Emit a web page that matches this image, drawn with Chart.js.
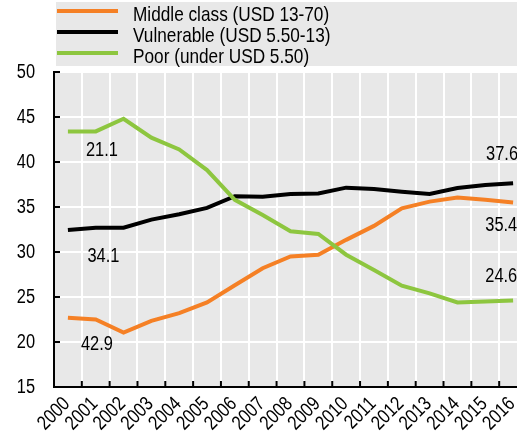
<!DOCTYPE html>
<html>
<head>
<meta charset="utf-8">
<script src="https://cdn.jsdelivr.net/npm/chart.js@4/dist/chart.umd.min.js"></script>
<style>
  html, body { margin: 0; padding: 0; background: #fff; overflow: hidden; }
  #wrap { width: 532px; height: 434px; }
</style>
</head>
<body>
<div id="wrap"><canvas id="chart" width="532" height="434"></canvas></div>
<script>
const years = ['2000', '2001', '2002', '2003', '2004', '2005', '2006', '2007', '2008',
  '2009', '2010', '2011', '2012', '2013', '2014', '2015', '2016'];

const middleClass = [22.7, 22.5, 21.05, 22.35, 23.2, 24.4, 26.3, 28.2, 29.5,
  29.7, 31.35, 32.9, 34.85, 35.6, 36.05, 35.8, 35.5];
const vulnerable = [32.45, 32.7, 32.7, 33.6, 34.2, 34.9, 36.2, 36.15, 36.45,
  36.5, 37.15, 37.0, 36.7, 36.45, 37.1, 37.45, 37.65];
const poor = [43.4, 43.4, 44.8, 42.7, 41.4, 39.1, 35.8, 34.1, 32.3,
  32.0, 29.7, 28.0, 26.25, 25.4, 24.4, 24.5, 24.6];

const seriesNames = ['Middle class (USD 13-70)', 'Vulnerable (USD 5.50-13)', 'Poor (under USD 5.50)'];
const yTicks = [15, 20, 25, 30, 35, 40, 45, 50];

// value labels as printed on the original
const valueLabels = ['21.1', '34.1', '42.9', '37.6', '35.4', '24.6'];
// anchors in data space: [category index, y value]
const labelAnchors = [[0.65, 41.25], [0.7, 29.5], [0.47, 19.7], [15.03, 40.86], [15.0, 33.0], [15.0, 27.33]];

const ORANGE = '#f58025';
const GREEN = '#8dc63f';
const BLACK = '#000000';
const PANEL = '#e8e8e8';

// no Arial Narrow here, so squeeze Liberation Sans by hand
const FAMILY = "'Liberation Sans', Arial, sans-serif";
const SQUEEZE = 0.82;

function narrowText(ctx, txt, x, y, size, align, angle) {
  ctx.save();
  ctx.translate(x, y);
  if (angle) ctx.rotate(angle);
  ctx.scale(SQUEEZE, 1);
  ctx.font = size + 'px ' + FAMILY;
  ctx.textAlign = align;
  ctx.textBaseline = 'middle';
  ctx.fillStyle = '#000';
  ctx.fillText(txt, 0, 0);
  ctx.restore();
}

const backdrop = {
  id: 'backdrop',
  beforeDraw(chart) {
    const { ctx, chartArea: a, width } = chart;
    ctx.save();
    ctx.fillStyle = PANEL;
    ctx.fillRect(a.left, a.top, a.right - a.left, a.bottom - a.top);
    // legend panel
    ctx.fillRect(a.left + 2, 2, width - a.left - 2, 64);
    ctx.restore();
  }
};

const legendBox = {
  id: 'legendBox',
  afterDraw(chart) {
    const { ctx, chartArea: a } = chart;
    chart.data.datasets.forEach((ds, i) => {
      const y = 11 + i * 21;
      ctx.save();
      ctx.strokeStyle = ds.borderColor;
      ctx.lineWidth = 4;
      ctx.beginPath();
      ctx.moveTo(a.left + 3, y);
      ctx.lineTo(a.left + 64, y);
      ctx.stroke();
      ctx.restore();
      narrowText(ctx, ds.label, a.left + 79, y + 4, 21, 'left');
    });
  }
};

const axisText = {
  id: 'axisText',
  afterDraw(chart) {
    const { ctx, chartArea: a, scales } = chart;
    ctx.save();
    ctx.strokeStyle = '#000';
    ctx.lineWidth = 2;
    ctx.beginPath();
    scales.y.ticks.forEach(t => {
      const py = scales.y.getPixelForValue(t.value);
      ctx.moveTo(a.left, py);
      ctx.lineTo(a.left + 6, py);
    });
    for (let i = 0; i < years.length; i++) {
      const px = scales.x.getPixelForValue(i + 0.5);
      ctx.moveTo(px, a.bottom);
      ctx.lineTo(px, a.bottom - 6);
    }
    ctx.stroke();
    ctx.restore();

    scales.y.ticks.forEach(t => {
      narrowText(ctx, String(t.value), a.left - 19, scales.y.getPixelForValue(t.value), 20, 'right');
    });
    years.forEach((yr, i) => {
      narrowText(ctx, yr, scales.x.getPixelForValue(i) - 1, a.bottom + 14, 20, 'right', -Math.PI / 4);
    });
    valueLabels.forEach((txt, i) => {
      const [xi, yv] = labelAnchors[i];
      narrowText(ctx, txt, scales.x.getPixelForValue(xi), scales.y.getPixelForValue(yv), 20, 'left');
    });
  }
};

new Chart(document.getElementById('chart'), {
  type: 'line',
  data: {
    labels: years,
    datasets: [
      { label: seriesNames[0], data: middleClass, borderColor: ORANGE, order: 2 },
      { label: seriesNames[1], data: vulnerable, borderColor: BLACK, order: 1 },
      { label: seriesNames[2], data: poor, borderColor: GREEN, order: 0 }
    ]
  },
  options: {
    responsive: false,
    animation: false,
    layout: { padding: { top: 72, left: 0, right: 5, bottom: 0 } },
    elements: {
      line: { borderWidth: 4, tension: 0, borderCapStyle: 'butt', borderJoinStyle: 'miter', fill: false },
      point: { radius: 0, hoverRadius: 0 }
    },
    plugins: {
      legend: { display: false },
      tooltip: { enabled: false }
    },
    scales: {
      x: {
        offset: true,
        grid: { offset: true, color: '#ffffff', lineWidth: 2, drawTicks: false },
        border: { color: '#000', width: 2 },
        ticks: { display: false },
        afterFit(scale) { scale.height = 47; }
      },
      y: {
        min: 15,
        max: 50,
        afterBuildTicks(scale) { scale.ticks = yTicks.map(v => ({ value: v })); },
        grid: { color: '#ffffff', lineWidth: 2, drawTicks: false },
        border: { color: '#000', width: 2 },
        ticks: { display: false },
        afterFit(scale) { scale.width = 54; }
      }
    }
  },
  plugins: [backdrop, legendBox, axisText]
});
</script>
</body>
</html>
